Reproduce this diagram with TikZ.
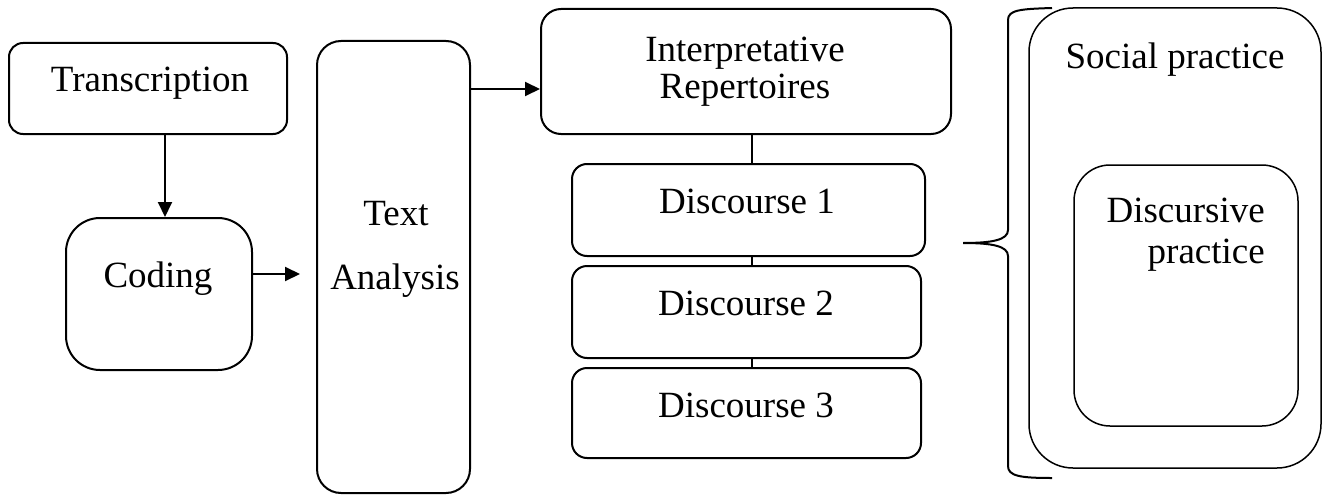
\documentclass[tikz,border=0pt]{standalone}
\usepackage{fontspec}
\setmainfont{Liberation Serif}
\usetikzlibrary{arrows.meta,calc}
\begin{document}
\begin{tikzpicture}[x=1pt,y=-1pt,
 box/.style={draw,line width=2pt,rounded corners=#1,inner sep=0pt},
 box/.default=15pt,
 thinbox/.style={draw,line width=1.5pt,rounded corners=#1,inner sep=0pt},
 lbl/.style={anchor=base,inner sep=0pt,font=\fontsize{37}{44}\selectfont},
 arr/.style={line width=2pt,-{Triangle[length=15pt,width=14pt]}},
 conn/.style={line width=2pt},
 bracestyle/.style={line width=2pt}]
\useasboundingbox (0,0) rectangle (1325,495);

% left column
\node[box=14pt, minimum width=278pt, minimum height=91pt] (tr) at (148,88.5) {};
\node[lbl] (trt) at (150,92) {Transcription};
\node[box=34pt, minimum width=186pt, minimum height=152pt] (co) at (159,294) {};
\node[lbl] (cot) at (158,287) {Coding};
\node[box=24pt, minimum width=153pt, minimum height=452pt] (ta) at (393.5,267) {};
\node[lbl] (tat1) at (396,225) {Text};
\node[lbl] (tat2) at (395,289) {Analysis};

% middle column
\node[box=20pt, minimum width=410pt, minimum height=125pt] (ir) at (746,71.5) {};
\node[lbl] (irt1) at (745,62) {Interpretative};
\node[lbl] (irt2) at (745,99) {Repertoires};
\node[box=15pt, minimum width=353pt, minimum height=92pt] (d1) at (748.5,210) {};
\node[lbl] (d1t) at (747,213) {Discourse 1};
\node[box=15pt, minimum width=349pt, minimum height=92pt] (d2) at (746.5,312) {};
\node[lbl] (d2t) at (746,315) {Discourse 2};
\node[box=15pt, minimum width=349pt, minimum height=90pt] (d3) at (746.5,413) {};
\node[lbl] (d3t) at (746,417) {Discourse 3};

% right column
\node[thinbox=44pt, minimum width=292pt, minimum height=460pt] (sp) at (1175,238) {};
\node[lbl] (spt) at (1175,68) {Social practice};
\node[thinbox=36pt, minimum width=224pt, minimum height=261pt] (dp) at (1186,295.5) {};
\node[lbl, anchor=base east] (dpt1) at (1265,222) {Discursive};
\node[lbl, anchor=base east] (dpt2) at (1265,263) {practice};

% connectors
\coordinate (a1) at (165,0);
\coordinate (a2) at (0,274);
\coordinate (a3) at (0,89);
\coordinate (a4) at (752,0);
\draw[arr] (tr.south -| a1) -- (co.north -| a1);
\draw[arr, shorten >=16pt] (co.east |- a2) -- (ta.west |- a2);
\draw[arr] (ta.east |- a3) -- (ir.west |- a3);
\draw[conn] (ir.south -| a4) -- (d1.north -| a4);
\draw[conn] (d1.south -| a4) -- (d2.north -| a4);
\draw[conn] (d2.south -| a4) -- (d3.north -| a4);

% brace
\draw[bracestyle] (1052,8) .. controls (1020,9) and (1008,10) .. (1008,20)
  -- (1008,230) .. controls (1008,240) and (992,243) .. (963,243)
  .. controls (992,243) and (1008,246) .. (1008,256)
  -- (1008,466) .. controls (1008,476) and (1020,478) .. (1052,478);
\end{tikzpicture}
\end{document}
